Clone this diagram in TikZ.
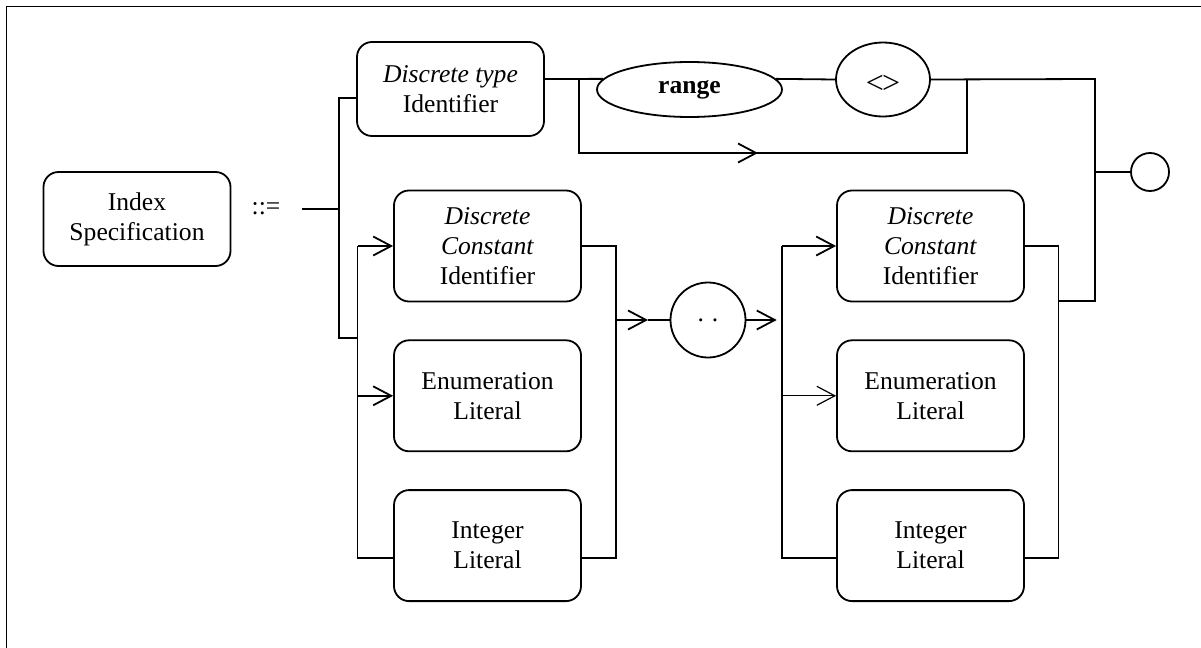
\documentclass[tikz,border=0pt]{standalone}
\usepackage{fontspec}
\setmainfont{Liberation Serif}
\usetikzlibrary{positioning,arrows.meta,shapes.geometric}

\begin{document}
\begin{tikzpicture}[x=0.5pt, y=-0.5pt, line width=0.9pt,
    font=\fontsize{12.8pt}{15pt}\selectfont,
    box/.style={draw, rounded corners=7.5pt, align=center, inner sep=0pt,
      minimum width=93.5pt, minimum height=55.5pt},
    term/.style={draw, ellipse, inner sep=0pt},
    arr/.style={-{Straight Barb[length=9pt,width=9.5pt]}}]
  \useasboundingbox (0,0) rectangle (1201,648);
  \draw (6.5,700) -- (6.5,6.5) -- (1250,6.5);

  % left hand side
  \node[box, minimum height=47pt] (idx) at (137,219) {Index\\Specification};
  \node (def) at (266,209) {::=};
  \coordinate (s) at (302,209);

  % first alternative
  \node[box, minimum height=47pt] (dt) at (450.5,89) {\textit{Discrete type}\\Identifier};
  \node[term, minimum width=92.5pt, minimum height=27.5pt] (rng) at (689.5,89.5) {\textbf{range}};
  \node[term, minimum width=47pt, minimum height=37pt] (diam) at (883,79.5) {};
  \node[font=\fontsize{16pt}{16pt}\selectfont] (diamtxt) at (883,84) {<\kern-1pt>};
  \node[term, minimum size=19pt] (stop) at (1150,172) {};

  % second alternative
  \node[box] (dc1) at (487.5,246) {\textit{Discrete}\\\textit{Constant}\\Identifier};
  \node[box, below=18.5pt of dc1] (en1) {Enumeration\\Literal};
  \node[box, below=18.5pt of en1] (in1) {Integer\\Literal};
  \node[term, minimum size=37.5pt] (dots) at (708,320) {.\hspace{4pt}.};
  \node[box] (dc2) at (930.5,246) {\textit{Discrete}\\\textit{Constant}\\Identifier};
  \node[box, below=18.5pt of dc2] (en2) {Enumeration\\Literal};
  \node[box, below=18.5pt of en2] (in2) {Integer\\Literal};

  % rails
  \coordinate (la) at (357.5,246);
  \coordinate (lb) at (357.5,558);
  \coordinate (ra) at (615.7,246);
  \coordinate (rb) at (615.7,558);
  \coordinate (lc) at (781.7,246);
  \coordinate (ld) at (781.7,558);
  \coordinate (rc) at (1058.5,246);
  \coordinate (rd) at (1058.5,558);
  \coordinate (m1) at (648,320);
  \coordinate (m2) at (776.7,320);

  \draw (s) -- (339,209);
  \draw (dt.west |- 0,98) -- (339,98) -- (339,338) -- (357.5,338);
  \draw (dt.east |- 0,79) -- (rng.173);
  \draw (rng.7) -- (diam.west);
  \draw (diam.east) -- (1095,79) -- (1095,301) -- (rc |- 0,301);
  \draw (1095,172) -- (stop.west);
  \draw (578.6,79) -- (578.6,153) -- (967,153) -- (967,79);
  \draw[arr] (690,153) -- (758,153);

  \draw (la) -- (lb) -- (in1.west |- lb);
  \draw[arr] (la) -- (dc1.west);
  \draw[arr] (la |- en1) -- (en1.west);
  \draw (dc1.east) -- (ra) -- (rb) -- (in1.east |- rb);
  \draw[arr] (ra |- m1) -- (m1);
  \draw (m1) -- (dots.west);
  \draw[arr] (dots.east) -- (m2);

  \draw (lc) -- (ld) -- (in2.west |- ld);
  \draw[arr] (lc) -- (dc2.west);
  \draw[arr, line width=0.6pt] (lc |- en2) -- (en2.west);
  \draw (dc2.east) -- (rc) -- (rd) -- (in2.east |- rd);
\end{tikzpicture}
\end{document}
